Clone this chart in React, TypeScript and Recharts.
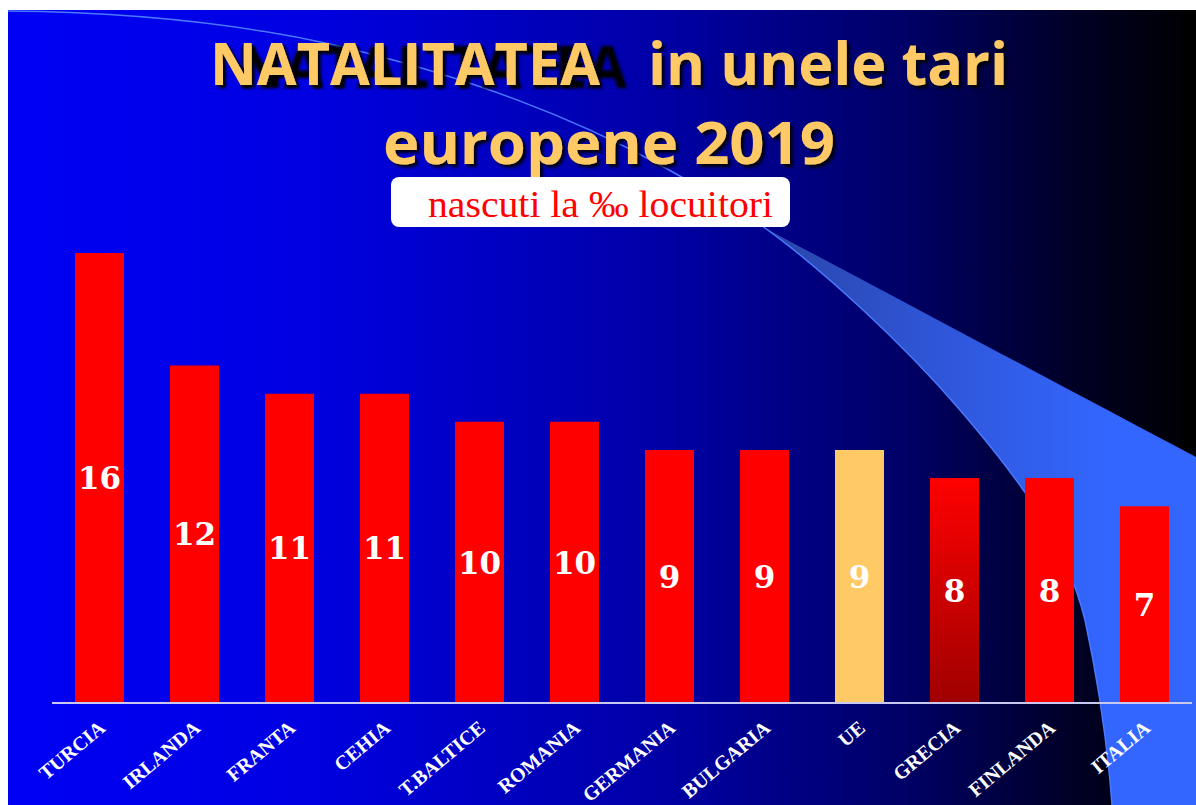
import React from "react";
import { BarChart, Bar, XAxis, YAxis, Cell, LabelList } from "recharts";

const categories = ["TURCIA", "IRLANDA", "FRANTA", "CEHIA", "T.BALTICE", "ROMANIA", "GERMANIA", "BULGARIA", "UE", "GRECIA", "FINLANDA", "ITALIA"];
const values = [16, 12, 11, 11, 10, 10, 9, 9, 9, 8, 8, 7];
const barColors = ["#FF0000", "#FF0000", "#FF0000", "#FF0000", "#FF0000", "#FF0000", "#FF0000", "#FF0000", "#FFC966", "url(#grecia)", "#FF0000", "#FF0000"];

const data = categories.map((name, i) => ({ name, value: values[i] }));

const W = 1188;
const H = 795;

const Tick = (props: any) => {
  const { x, y, payload } = props;
  return (
    <g transform={`translate(${x + 7},${y + 27})`}>
      <text
        x={0}
        y={0}
        transform="rotate(-40)"
        textAnchor="end"
        fill="#FFFFFF"
        fontFamily="'Liberation Serif', 'Times New Roman', serif"
        fontWeight="bold"
        fontSize={20}
      >
        {payload.value}
      </text>
    </g>
  );
};

const ValueLabel = (props: any) => {
  const { x, y, width, height, value } = props;
  return (
    <text
      x={x + width / 2}
      y={y + height / 2}
      dy="0.36em"
      textAnchor="middle"
      fill="#FFFFFF"
      fontFamily="'DejaVu Serif', serif"
      fontWeight="bold"
      fontSize={31}
    >
      {value}
    </text>
  );
};

const Background = () => (
  <svg width={W} height={H} style={{ position: "absolute", left: 0, top: 0 }}>
    <defs>
      <linearGradient id="bg" x1="0" y1="0" x2="1" y2="0">
        <stop offset="0" stopColor="#0000F5" />
        <stop offset="0.25" stopColor="#0000E2" />
        <stop offset="0.55" stopColor="#0000A6" />
        <stop offset="0.75" stopColor="#000068" />
        <stop offset="0.9" stopColor="#000025" />
        <stop offset="1" stopColor="#000000" />
      </linearGradient>
      <linearGradient id="swoosh" gradientUnits="userSpaceOnUse" x1="765" y1="0" x2="1110" y2="0">
        <stop offset="0" stopColor="#2A45A8" />
        <stop offset="0.5" stopColor="#2F56D8" />
        <stop offset="1" stopColor="#3366FF" />
      </linearGradient>
      <filter id="shadow" x="-10%" y="-30%" width="120%" height="160%">
        <feDropShadow dx="3" dy="3" stdDeviation="1.5" floodColor="#000000" floodOpacity="0.9" />
      </filter>
      <filter id="ghost" x="-5%" y="-30%" width="120%" height="160%">
        <feGaussianBlur in="SourceAlpha" stdDeviation="1.5" result="b" />
        <feOffset in="b" dx="27" dy="3" result="g" />
        <feOffset in="b" dx="3" dy="3" result="s" />
        <feMerge>
          <feMergeNode in="g" />
          <feMergeNode in="s" />
          <feMergeNode in="SourceGraphic" />
        </feMerge>
      </filter>
    </defs>
    <rect x={0} y={0} width={W} height={H} fill="url(#bg)" />
    <g transform="translate(-8,-10)">
      <path
        d="M765,228 C820,268 900,340 960,410 C1020,480 1065,540 1085,620 C1100,690 1108,750 1112,805 L1196,805 L1196,457 C1060,385 900,300 765,228 Z"
        fill="url(#swoosh)"
      />
      <path
        d="M8,11 C120,12 230,22 330,44 C450,72 560,110 660,165 C700,187 735,207 765,228 C820,268 900,340 960,410 C1020,480 1065,540 1085,620 C1100,690 1108,750 1112,805"
        fill="none"
        stroke="#4A78FF"
        strokeWidth={1.5}
      />
      <g fill="#FFC966" fontFamily="'Open Sans', sans-serif" fontWeight={700} fontSize={59}>
        <text x={210} y={85} textLength={390} lengthAdjust="spacingAndGlyphs" filter="url(#ghost)">NATALITATEA</text>
        <text x={648} y={85} textLength={360} lengthAdjust="spacingAndGlyphs" filter="url(#shadow)">in unele tari</text>
        <text x={383} y={164} textLength={452} lengthAdjust="spacingAndGlyphs" filter="url(#shadow)">europene 2019</text>
      </g>
      <rect x={391} y={177} width={399} height={50} rx={8} ry={8} fill="#FFFFFF" />
      <text x={428} y={217} fill="#FF0000" fontFamily="'Liberation Serif', 'Times New Roman', serif" fontSize={37} textLength={345} lengthAdjust="spacingAndGlyphs">nascuti la ‰ locuitori</text>
    </g>
  </svg>
);

export default function App() {
  return (
    <div style={{ position: "fixed", left: 8, top: 10, width: W, height: H, overflow: "hidden" }}>
      <Background />
      <div style={{ position: "absolute", left: 0, top: 0 }}>
        <BarChart width={W} height={H} data={data} margin={{ top: 130.5, right: 4, left: 44, bottom: 0 }}>
          <defs>
            <linearGradient id="grecia" x1="0" y1="0" x2="0" y2="1">
              <stop offset="0" stopColor="#FF0000" />
              <stop offset="1" stopColor="#A00000" />
            </linearGradient>
          </defs>
          <XAxis
            dataKey="name"
            height={102}
            interval={0}
            tickSize={0}
            tickMargin={0}
            tickLine={false}
            axisLine={{ stroke: "#C8C8F0", strokeWidth: 2 }}
            tick={<Tick />}
          />
          <YAxis hide domain={[0, 20]} />
          <Bar dataKey="value" barSize={49} isAnimationActive={false}>
            {data.map((d, i) => (
              <Cell key={d.name} fill={barColors[i]} />
            ))}
            <LabelList dataKey="value" content={<ValueLabel />} />
          </Bar>
        </BarChart>
      </div>
    </div>
  );
}
